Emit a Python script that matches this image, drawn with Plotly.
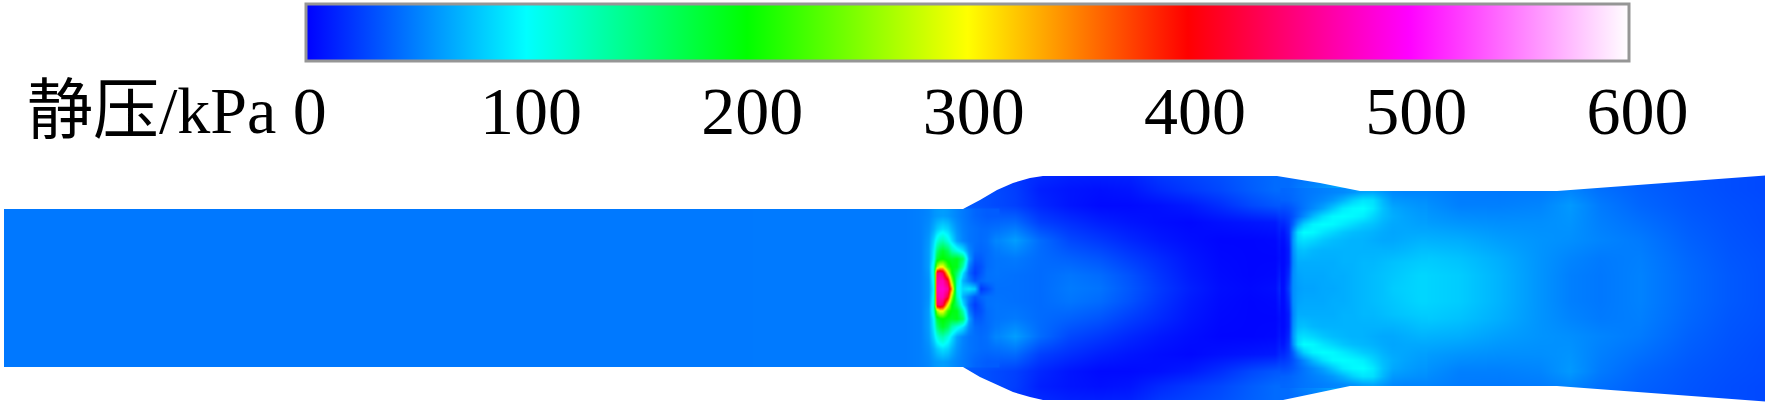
import plotly.graph_objects as go

# ---- colour scale / labels ----
color_stops = [[0, "#0000ff"], [1/6, "#00ffff"], [2/6, "#00ff00"], [3/6, "#ffff00"],
               [4/6, "#ff0000"], [5/6, "#ff00ff"], [1, "#ffffff"]]
tick_vals = [0, 100, 200, 300, 400, 500, 600]
title_text = "静压/kPa"

# ---- wall geometry ----
top_wall_x = [0, 963, 980, 997, 1013, 1030, 1043, 1277, 1320, 1360, 1557, 1772]
top_wall_y = [209, 209, 200, 190, 183, 178, 176, 176, 183, 191, 191, 175]
bot_wall_x = [0, 963, 980, 997, 1013, 1030, 1043, 1283, 1320, 1350, 1557, 1772]
bot_wall_y = [367, 367, 377, 385, 392, 397, 400, 400, 392, 386, 386, 402]
inlet_x = 4
outlet_x = 1765

# ---- static pressure (kPa), whole channel ----
field_x = [0, 500, 890, 910, 990, 1015, 1040, 1070, 1100, 1130, 1160, 1190, 1220, 1250, 1275, 1288,
           1298, 1315, 1340, 1365, 1385, 1420, 1460, 1500, 1540, 1570, 1600, 1640, 1690, 1730, 1772]
field_y = [170, 190, 205, 222, 240, 258, 275, 288, 301, 318, 336, 354, 371, 386, 405]
field_z = [
 [47,47,47,47,30,20,18,14,14,15,24,28,32,38,42,42,42,44,46,48,48,46,44,44,44,44,40,36,32,30,28],
 [47,47,47,47,30,24,12, 8, 6, 8,16,22,28,36,42,42,48,55,70,88,70,52,48,47,48,52,44,38,33,30,28],
 [47,47,48,48,30,25,15, 8, 4, 4, 6,10,18,28,34,36,46,62,88,98,75,58,50,50,52,60,48,40,34,31,29],
 [47,47,48,48,40,42,25,18,12, 8, 5, 3, 6, 8,10,28,85,100,92,78,66,62,58,56,56,58,50,44,36,32,29],
 [47,47,48,48,48,62,42,28,22,15, 9, 5, 2, 2, 3,18,75,76,72,70,70,70,68,62,58,56,52,48,38,33,30],
 [47,47,48,48,45,48,42,38,33,24,16, 8, 3, 2, 2,12,68,70,70,72,76,80,76,68,58,52,48,50,40,34,31],
 [47,47,48,48,46,44,42,46,42,32,20,10, 4, 2, 3,25,66,68,70,74,80,84,80,70,58,50,47,51,41,35,31],
 [47,47,48,48,44,44,42,48,45,34,22,12, 5, 3, 5,35,64,66,70,74,80,84,80,70,58,50,47,51,41,35,31],
 [47,47,48,48,46,44,42,46,42,32,20,10, 4, 2, 3,25,66,68,70,74,80,84,80,70,58,50,47,51,41,35,31],
 [47,47,48,48,45,48,42,38,33,24,16, 8, 3, 2, 2,12,68,70,70,72,76,80,76,68,58,52,48,50,40,34,31],
 [47,47,48,48,48,62,42,28,22,15, 9, 5, 2, 2, 3,18,75,76,72,70,70,70,68,62,58,56,52,48,38,33,30],
 [47,47,48,48,40,42,25,18,12, 8, 5, 3, 6, 8,10,28,85,100,92,78,66,62,58,56,56,58,50,44,36,32,29],
 [47,47,48,48,30,25,15, 8, 4, 4, 6,10,18,28,34,36,46,62,88,98,75,58,50,50,52,60,48,40,34,31,29],
 [47,47,47,47,30,24,12, 8, 6, 8,16,22,28,36,42,42,48,55,70,88,70,52,48,47,48,52,44,38,33,30,28],
 [47,47,47,47,30,20,18,14,14,15,24,28,32,38,42,42,42,44,46,48,48,46,44,44,44,44,40,36,32,30,28],
]

# ---- static pressure (kPa), close-up round the pressure peak ----
peak_x = [905, 920, 928, 933, 936, 939, 942, 947, 951, 956, 962, 968, 974, 980, 986, 995]
peak_y = [215, 228, 240, 250, 258, 266, 272, 280, 288, 296, 304, 310, 318, 326, 336, 348, 361]
peak_z = [
 [48,50,53,58,60,61,62,60,56,52,48,44,40,38,36,36],
 [48,50,56,68,78,84,88,82,70,58,50,46,44,42,42,44],
 [48,50,60,85,110,125,130,110,88,64,52,46,44,42,44,53],
 [48,50,62,95,150,175,185,165,130,110,90,55,42,40,42,48],
 [48,50,62,100,180,195,200,190,185,190,160,65,36,36,42,46],
 [48,50,62,120,260,300,300,220,195,190,130,50,28,32,42,46],
 [48,50,60,120,440,450,430,300,200,160,90,42,24,34,44,46],
 [48,50,58,110,460,470,470,420,260,130,70,50,34,40,44,45],
 [48,50,58,100,470,480,480,460,340,110,85,90,80,22,30,44],
 [48,50,58,110,460,470,470,420,260,130,70,50,34,40,44,45],
 [48,50,60,120,440,450,430,300,200,160,90,42,24,34,44,46],
 [48,50,62,120,260,300,300,220,195,190,130,50,28,32,42,46],
 [48,50,62,100,180,195,200,190,185,190,160,65,36,36,42,46],
 [48,50,62,95,150,175,185,165,130,110,90,55,42,40,42,48],
 [48,50,60,85,110,125,130,110,88,64,52,46,44,42,44,53],
 [48,50,56,68,78,84,88,82,70,58,50,46,44,42,42,44],
 [48,50,53,58,60,61,62,60,56,52,48,44,40,38,36,36],
]

# ---- static pressure (kPa), close-up round the reflected shock ----
shock_x = [1283, 1288, 1292, 1297, 1303, 1312, 1322, 1332, 1342, 1352, 1362, 1372, 1382, 1392, 1405, 1420]
shock_y = [192, 200, 208, 216, 224, 232, 240, 250, 262, 275, 288, 301, 314, 326, 336, 344, 352, 360, 368, 376, 384]
shock_z = [
 [40,41,42,44,46,48,50,52,54,58,64,66,60,54,52,52],
 [38,39,41,43,46,50,54,60,70,82,90,88,72,60,58,56],
 [30,32,35,40,46,54,64,78,92,98,100,92,76,66,62,59],
 [22,26,32,42,54,72,88,98,100,98,94,84,74,68,64,61],
 [14,22,38,62,82,96,100,98,92,86,80,76,70,66,65,63],
 [8,20,55,88,100,98,90,84,78,74,72,70,67,65,66,66],
 [5,16,58,84,88,84,78,74,72,70,70,68,66,66,68,70],
 [3,12,55,74,76,72,70,70,70,70,70,70,70,70,72,75],
 [3,12,52,68,68,68,68,68,70,70,72,72,74,76,78,80],
 [4,18,55,64,66,66,66,68,68,70,72,74,76,78,81,84],
 [5,25,55,62,64,64,66,66,68,70,72,74,76,80,82,84],
 [4,18,55,64,66,66,66,68,68,70,72,74,76,78,81,84],
 [3,12,52,68,68,68,68,68,70,70,72,72,74,76,78,80],
 [3,12,55,74,76,72,70,70,70,70,70,70,70,70,72,75],
 [5,16,58,84,88,84,78,74,72,70,70,68,66,66,68,70],
 [8,20,55,88,100,98,90,84,78,74,72,70,67,65,66,66],
 [14,22,38,62,82,96,100,98,92,86,80,76,70,66,65,63],
 [22,26,32,42,54,72,88,98,100,98,94,84,74,68,64,61],
 [30,32,35,40,46,54,64,78,92,98,100,92,76,66,62,59],
 [38,39,41,43,46,50,54,60,70,82,90,88,72,60,58,56],
 [40,41,42,44,46,48,50,52,54,58,64,66,60,54,52,52],
]

SERIF = "Liberation Serif, Noto Sans CJK SC, serif"
W, H = 1772, 405

fig = go.Figure()
for hx, hy, hz in [(field_x, field_y, field_z), (peak_x, peak_y, peak_z), (shock_x, shock_y, shock_z)]:
    fig.add_trace(go.Heatmap(x=hx, y=hy, z=hz, coloraxis="coloraxis", zsmooth="best", hoverinfo="skip"))

# white masks outside the channel walls
mask_top_x = top_wall_x + [1772, 0]
mask_top_y = top_wall_y + [145, 145]
mask_bot_x = bot_wall_x + [1772, 0]
mask_bot_y = bot_wall_y + [410, 410]
mask_left_x = [0, inlet_x, inlet_x, 0]
mask_right_x = [outlet_x, 1772, 1772, outlet_x]
mask_side_y = [145, 145, 410, 410]
for mx, my in [(mask_top_x, mask_top_y), (mask_bot_x, mask_bot_y),
               (mask_left_x, mask_side_y), (mask_right_x, mask_side_y)]:
    fig.add_trace(go.Scatter(x=mx, y=my, mode="lines", fill="toself", fillcolor="white",
                             line=dict(width=0, color="white"), hoverinfo="skip", showlegend=False))

# carrier for the pressure axis that labels the colour bar
fig.add_trace(go.Scatter(x=tick_vals, y=[-50] * len(tick_vals), xaxis="x2", mode="markers",
                         marker=dict(opacity=0), hoverinfo="skip", showlegend=False))

fig.update_layout(
    width=W, height=H, margin=dict(l=0, r=0, t=0, b=0),
    paper_bgcolor="white", plot_bgcolor="white", showlegend=False,
    xaxis=dict(range=[0, W], visible=False, fixedrange=True),
    yaxis=dict(range=[H, 0], visible=False, fixedrange=True),
    xaxis2=dict(overlaying="x", anchor="free", position=1 - 65 / H, side="bottom",
                range=[-140, 660.8], showgrid=False, zeroline=False, showline=False,
                tickmode="array", tickvals=tick_vals, ticks="", fixedrange=True,
                tickfont=dict(family=SERIF, size=68, color="black")),
    coloraxis=dict(
        cmin=0, cmax=600, colorscale=color_stops,
        colorbar=dict(
            orientation="h", lenmode="pixels", len=1323, thicknessmode="pixels", thickness=57,
            x=306 / W, xanchor="left", y=1 - 4 / H, yanchor="top", xpad=0, ypad=0,
            outlinecolor="#969696", outlinewidth=3, showticklabels=False, ticks="",
        ),
    ),
    annotations=[dict(text=title_text, x=278, y=110, xref="x", yref="y", xanchor="right",
                      yanchor="middle", showarrow=False,
                      font=dict(family=SERIF, size=66, color="black"))],
)

fig.write_html("out.html", config=dict(displayModeBar=False),
               post_script="document.body.style.margin='0';document.body.style.overflow='hidden';")
